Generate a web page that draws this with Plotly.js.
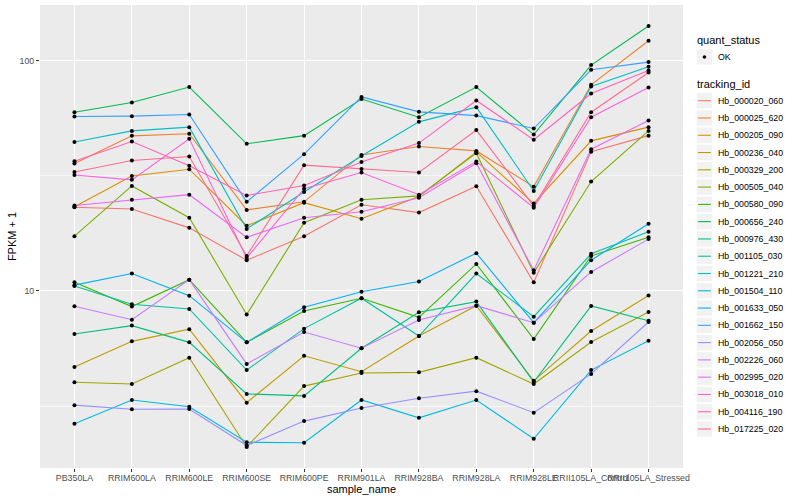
<!DOCTYPE html>
<html>
<head>
<meta charset="utf-8">
<script src="https://cdn.plot.ly/plotly-3.0.1.min.js"></script>
<style>
  html, body { margin: 0; padding: 0; background: #ffffff; }
  #chart { width: 800px; height: 500px; }
</style>
</head>
<body>
<div id="chart"></div>
<script>
// ---------------- data (FPKM + 1) ----------------
const samples = ['PB350LA', 'RRIM600LA', 'RRIM600LE', 'RRIM600SE', 'RRIM600PE', 'RRIM901LA',
                 'RRIM928BA', 'RRIM928LA', 'RRIM928LE', 'RRII105LA_Control', 'RRII105LA_Stressed'];

const trackingIds = ['Hb_000020_060', 'Hb_000025_620', 'Hb_000205_090', 'Hb_000236_040', 'Hb_000329_200',
                     'Hb_000505_040', 'Hb_000580_090', 'Hb_000656_240', 'Hb_000976_430', 'Hb_001105_030',
                     'Hb_001221_210', 'Hb_001504_110', 'Hb_001633_050', 'Hb_001662_150', 'Hb_002056_050',
                     'Hb_002226_060', 'Hb_002995_020', 'Hb_003018_010', 'Hb_004116_190', 'Hb_017225_020'];

const hb_000020_060 = [23.1, 22.7, 18.8, 13.6, 17.3, 23.7, 21.9, 28.5, 10.9, 40.3, 47.3];
const hb_000025_620 = [35.8, 47.2, 48.2, 22.5, 24.4, 39.0, 42.4, 40.6, 28.4, 78.7, 122.2];
const hb_000205_090 = [23.2, 31.6, 33.8, 19.2, 24.2, 20.6, 25.7, 40.2, 24.0, 44.9, 51.5];
const hb_000236_040 = [4.67, 6.04, 6.82, 3.27, 5.23, 4.46, 6.37, 8.63, 4.07, 6.70, 9.56];
const hb_000329_200 = [4.01, 3.94, 5.13, 2.10, 3.86, 4.40, 4.43, 5.13, 3.94, 6.00, 8.10];
const hb_000505_040 = [17.3, 28.6, 20.8, 7.9, 19.8, 24.9, 25.9, 39.7, 12.0, 29.9, 49.6];
const hb_000580_090 = [10.9, 8.55, 11.2, 5.98, 8.18, 9.30, 7.68, 13.1, 6.18, 14.2, 17.1];
const hb_000656_240 = [59.8, 65.9, 76.9, 43.6, 47.3, 68.2, 56.9, 76.9, 47.8, 95.8, 141.6];
const hb_000976_430 = [6.50, 7.07, 5.98, 3.57, 3.50, 5.64, 8.08, 8.99, 4.02, 8.61, 7.43];
const hb_001105_030 = [10.5, 8.75, 8.35, 4.53, 6.86, 9.30, 6.37, 11.9, 7.73, 14.5, 18.1];
const hb_001221_210 = [44.4, 49.6, 51.5, 18.6, 26.9, 38.6, 54.3, 62.9, 27.2, 77.3, 94.2];
const hb_001504_110 = [2.65, 3.36, 3.14, 2.20, 2.19, 3.36, 2.81, 3.36, 2.28, 4.53, 6.08];
const hb_001633_050 = [10.6, 11.9, 9.54, 5.98, 8.49, 9.93, 11.0, 14.6, 7.28, 13.6, 19.6];
const hb_001662_150 = [57.3, 57.5, 58.4, 24.4, 39.3, 69.7, 60.0, 57.8, 50.8, 91.4, 98.7];
const hb_002056_050 = [3.19, 3.06, 3.07, 2.13, 2.72, 3.10, 3.42, 3.67, 2.96, 4.36, 7.33];
const hb_002226_060 = [8.58, 7.50, 11.2, 4.82, 6.63, 5.64, 7.48, 8.63, 7.28, 12.1, 16.8];
const hb_002995_020 = [23.5, 24.9, 26.2, 17.1, 20.8, 22.1, 25.4, 35.9, 12.3, 41.3, 55.0];
const hb_003018_010 = [31.9, 30.4, 45.8, 13.9, 27.8, 32.7, 26.2, 36.5, 23.0, 56.9, 76.5];
const hb_004116_190 = [36.6, 44.6, 35.0, 26.0, 28.7, 36.3, 43.9, 67.2, 45.4, 72.1, 90.7];
const hb_017225_020 = [32.9, 36.9, 38.4, 14.2, 35.2, 33.9, 32.7, 50.0, 23.4, 59.8, 88.9];

const quantStatus = ['OK'];
const yTickVals = [10, 100];
const yTickText = ['10', '100'];

// ---------------- presentation ----------------
const seriesValues = [hb_000020_060, hb_000025_620, hb_000205_090, hb_000236_040, hb_000329_200,
                      hb_000505_040, hb_000580_090, hb_000656_240, hb_000976_430, hb_001105_030,
                      hb_001221_210, hb_001504_110, hb_001633_050, hb_001662_150, hb_002056_050,
                      hb_002226_060, hb_002995_020, hb_003018_010, hb_004116_190, hb_017225_020];

const palette = ['#F8766D', '#EA8331', '#D89000', '#C09B00', '#A3A500', '#7CAE00', '#39B600', '#00BB4E',
                 '#00BF7D', '#00C1A3', '#00BFC4', '#00BAE0', '#00B0F6', '#35A2FF', '#9590FF', '#C77CFF',
                 '#E76BF3', '#FA62DB', '#FF62BC', '#FF6C91'];

const FONT = 'Liberation Sans, Arial, Helvetica, sans-serif';
const W = 800, H = 500;
const PL = 39.5, PR = 683.5, PT = 5, PB = 468;   // panel box in px

const traces = [];
seriesValues.forEach((vals, i) => {
  traces.push({
    type: 'scatter', mode: 'lines', x: samples, y: vals, name: trackingIds[i],
    line: { color: palette[i], width: 1.1 }, showlegend: false, hoverinfo: 'x+y+name'
  });
});
// all points, black (quant_status = OK)
const allX = [], allY = [];
seriesValues.forEach(vals => vals.forEach((v, j) => { allX.push(samples[j]); allY.push(v); }));
traces.push({
  type: 'scatter', mode: 'markers', x: allX, y: allY, name: quantStatus[0],
  marker: { color: '#000000', size: 4 }, showlegend: false
});

// y range: ggplot-style 5% expansion in log space
const allLog = allY.map(v => Math.log10(v));
const lmin = Math.min(...allLog), lmax = Math.max(...allLog);
const ex = (lmax - lmin) * 0.05;
const yRange = [lmin - ex, lmax + ex];
const minorVals = [Math.sqrt(yTickVals[0]), Math.sqrt(yTickVals[0] * yTickVals[1])];

// legend drawn in paper coords
const px2x = p => (p - PL) / (PR - PL);
const py2y = p => (PB - p) / (PB - PT);
const shapes = [], annotations = [];
const KX0 = 697.2, KX1 = 712.8, KH = 7.7, TX = 716.5;

annotations.push({ xref: 'paper', yref: 'paper', x: px2x(695.5), y: py2y(40.5), xanchor: 'left', yanchor: 'middle',
  text: 'quant_status', showarrow: false, font: { family: FONT, size: 11, color: '#000000' } });
shapes.push({ type: 'rect', xref: 'paper', yref: 'paper', x0: px2x(KX0), x1: px2x(KX1),
  y0: py2y(57 - KH), y1: py2y(57 + KH), fillcolor: '#F2F2F2', line: { width: 0 } });
shapes.push({ type: 'circle', xref: 'paper', yref: 'paper', x0: px2x(705 - 1.8), x1: px2x(705 + 1.8),
  y0: py2y(57 - 1.8), y1: py2y(57 + 1.8), fillcolor: '#000000', line: { width: 0 } });
annotations.push({ xref: 'paper', yref: 'paper', x: px2x(TX), y: py2y(57), xanchor: 'left', yanchor: 'middle',
  text: quantStatus[0], showarrow: false, font: { family: FONT, size: 8.8, color: '#000000' } });

annotations.push({ xref: 'paper', yref: 'paper', x: px2x(695.5), y: py2y(84), xanchor: 'left', yanchor: 'middle',
  text: 'tracking_id', showarrow: false, font: { family: FONT, size: 11, color: '#000000' } });
trackingIds.forEach((id, i) => {
  const cy = 100.7 + i * 17.28;
  shapes.push({ type: 'rect', xref: 'paper', yref: 'paper', x0: px2x(KX0), x1: px2x(KX1),
    y0: py2y(cy - KH), y1: py2y(cy + KH), fillcolor: '#F2F2F2', line: { width: 0 } });
  shapes.push({ type: 'line', xref: 'paper', yref: 'paper', x0: px2x(698.6), x1: px2x(711.4),
    y0: py2y(cy), y1: py2y(cy), line: { color: palette[i], width: 1.1 } });
  annotations.push({ xref: 'paper', yref: 'paper', x: px2x(TX), y: py2y(cy), xanchor: 'left', yanchor: 'middle',
    text: id, showarrow: false, font: { family: FONT, size: 8.8, color: '#000000' } });
});

const layout = {
  width: W, height: H,
  margin: { l: PL, r: W - PR, t: PT, b: H - PB, pad: 0 },
  paper_bgcolor: '#FFFFFF', plot_bgcolor: '#EBEBEB',
  font: { family: FONT, size: 11, color: '#000000' },
  showlegend: false,
  xaxis: {
    type: 'category', categoryorder: 'array', categoryarray: samples,
    range: [-0.6, samples.length - 0.4],
    tickmode: 'array', tickvals: samples, ticktext: samples, tickangle: 0,
    showgrid: true, gridcolor: '#FFFFFF', gridwidth: 1.07,
    ticks: 'outside', ticklen: 3, tickwidth: 1, tickcolor: '#333333',
    ticklabelstandoff: -2,
    tickfont: { family: FONT, size: 8.8, color: '#4D4D4D' },
    zeroline: false, showline: false, automargin: false,
    title: { text: 'sample_name', font: { family: FONT, size: 11, color: '#000000' }, standoff: 1 }
  },
  yaxis: {
    type: 'log', range: yRange,
    tickmode: 'array', tickvals: yTickVals, ticktext: yTickText,
    showgrid: true, gridcolor: '#FFFFFF', gridwidth: 1.07,
    minor: { tickmode: 'array', tickvals: minorVals, showgrid: true, gridcolor: '#FFFFFF', gridwidth: 0.53, ticks: '' },
    ticks: 'outside', ticklen: 3, tickwidth: 1, tickcolor: '#333333',
    tickfont: { family: FONT, size: 8.8, color: '#4D4D4D' },
    zeroline: false, showline: false, automargin: false,
    title: { text: 'FPKM + 1', font: { family: FONT, size: 11, color: '#000000' }, standoff: 0 }
  },
  shapes: shapes,
  annotations: annotations
};

Plotly.newPlot('chart', traces, layout, { displayModeBar: false, staticPlot: true });
</script>
</body>
</html>
